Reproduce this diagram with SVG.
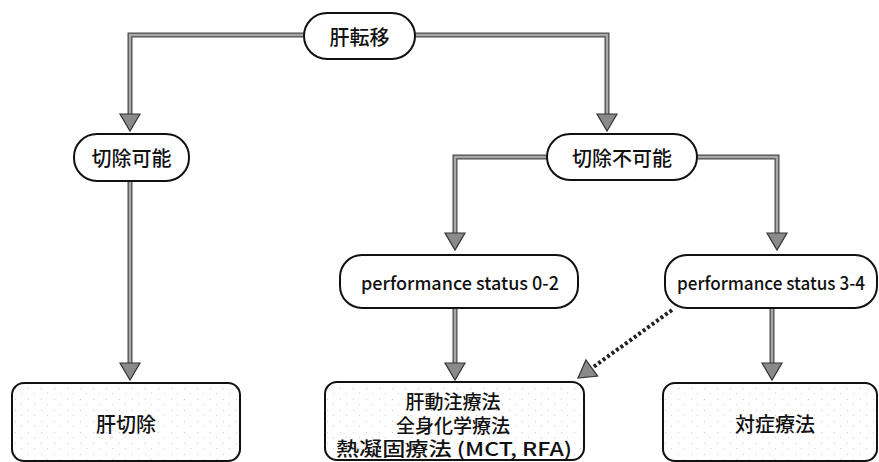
<svg xmlns="http://www.w3.org/2000/svg" xmlns:xlink="http://www.w3.org/1999/xlink" width="879" height="462" viewBox="0 0 879 462">
<style>
  .node { fill: #fff; stroke: #111; stroke-width: 2; }
  .box { fill: url(#stipple); stroke: #111; stroke-width: 2; }
  .t { font-family: "Noto Sans CJK JP", "Noto Sans", sans-serif; font-size: 20px; font-weight: 500; fill: #111; text-anchor: middle; dominant-baseline: central; }
  .s { font-size: 19px; }
  .ps { font-size: 18.5px; }
  .out { fill: none; stroke: #4a4a4a; stroke-width: 5; }
  .in { fill: none; stroke: #a8a8a8; stroke-width: 2.5; }
  .dot { fill: none; stroke: #222; stroke-width: 4; stroke-dasharray: 3 2.5; }
  .ah { fill: #8a8a8a; stroke: #333; stroke-width: 1.2; }
</style>
<defs>
  <pattern id="stipple" width="13" height="11" patternUnits="userSpaceOnUse">
    <rect width="13" height="11" fill="#fff"/>
    <rect x="2" y="3" width="1" height="1" fill="#c8c8c8"/>
    <rect x="8" y="8" width="1" height="1" fill="#d2d2d2"/>
  </pattern>
  <path id="ah" d="M-10,-17 L10,-17 L0,0 Z"/>
</defs>

<g id="connectors">
  <path class="out" d="M304,35 H130 V116"/>
  <path class="in" d="M304,35 H130 V116"/>
  <path class="out" d="M415,35 H607 V116"/>
  <path class="in" d="M415,35 H607 V116"/>
  <path class="out" d="M130,181 V364"/>
  <path class="in" d="M130,181 V364"/>
  <path class="out" d="M547,157 H455 V234"/>
  <path class="in" d="M547,157 H455 V234"/>
  <path class="out" d="M697,157 H777 V234"/>
  <path class="in" d="M697,157 H777 V234"/>
  <path class="out" d="M455,308 V364"/>
  <path class="in" d="M455,308 V364"/>
  <path class="out" d="M772,308 V364"/>
  <path class="in" d="M772,308 V364"/>
  <path class="dot" d="M672,310 L592,368"/>
  <use xlink:href="#ah" class="ah" transform="translate(130,131)"/>
  <use xlink:href="#ah" class="ah" transform="translate(607,131)"/>
  <use xlink:href="#ah" class="ah" transform="translate(130,380)"/>
  <use xlink:href="#ah" class="ah" transform="translate(455,250)"/>
  <use xlink:href="#ah" class="ah" transform="translate(777,250)"/>
  <use xlink:href="#ah" class="ah" transform="translate(455,380)"/>
  <use xlink:href="#ah" class="ah" transform="translate(772,380)"/>
  <use xlink:href="#ah" class="ah" transform="translate(578,378) rotate(54)"/>
</g>

<g id="n-kanten">
  <rect class="node" x="304" y="13" width="111" height="46" rx="23"/>
  <text class="t" x="359.5" y="36">肝転移</text>
</g>
<g id="n-setsujo-kanou">
  <rect class="node" x="74" y="134" width="115" height="47" rx="23"/>
  <text class="t" x="131.5" y="157.5">切除可能</text>
</g>
<g id="n-setsujo-fukanou">
  <rect class="node" x="547" y="134" width="150" height="46" rx="23"/>
  <text class="t" x="622" y="157">切除不可能</text>
</g>
<g id="n-ps02">
  <rect class="node" x="340" y="255" width="238" height="53" rx="22"/>
  <text class="t ps" x="460" y="282" textLength="198" lengthAdjust="spacingAndGlyphs">performance status 0-2</text>
</g>
<g id="n-ps34">
  <rect class="node" x="665" y="255" width="212" height="53" rx="22"/>
  <text class="t ps" x="771" y="282" textLength="188" lengthAdjust="spacingAndGlyphs">performance status 3-4</text>
</g>
<g id="n-kansetsujo">
  <rect class="box" x="12" y="383" width="228" height="78" rx="12"/>
  <text class="t" x="126" y="423">肝切除</text>
</g>
<g id="n-chiryou">
  <rect class="box" x="325" y="382" width="259" height="78" rx="12"/>
  <text class="t s" x="453" y="400">肝動注療法</text>
  <text class="t s" x="453" y="424">全身化学療法</text>
  <text class="t s" x="454" y="447" textLength="236" lengthAdjust="spacingAndGlyphs">熱凝固療法 (MCT, RFA)</text>
</g>
<g id="n-taishou">
  <rect class="box" x="663" y="383" width="214" height="78" rx="12"/>
  <text class="t" x="775" y="423">対症療法</text>
</g>
</svg>
